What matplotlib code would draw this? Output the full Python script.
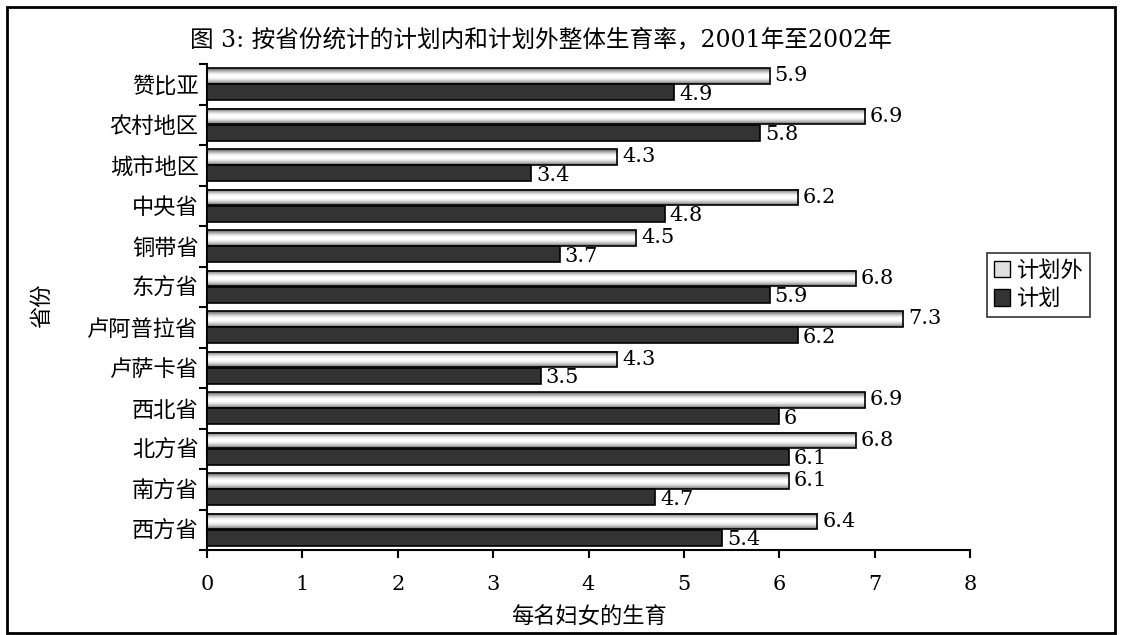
import matplotlib.pyplot as plt
import numpy as np
from matplotlib.patches import Rectangle

plt.rcParams['font.family'] = ['DejaVu Serif', 'Noto Sans CJK SC']

provinces = ['赞比亚', '农村地区', '城市地区', '中央省', '铜带省', '东方省',
             '卢阿普拉省', '卢萨卡省', '西北省', '北方省', '南方省', '西方省']
unplanned = [5.9, 6.9, 4.3, 6.2, 4.5, 6.8, 7.3, 4.3, 6.9, 6.8, 6.1, 6.4]
planned = [4.9, 5.8, 3.4, 4.8, 3.7, 5.9, 6.2, 3.5, 6, 6.1, 4.7, 5.4]
xticks = [0, 1, 2, 3, 4, 5, 6, 7, 8]

fig = plt.figure(figsize=(11.23, 6.35), dpi=100)
ax = fig.add_axes([207/1123, 1-550/635, 763/1123, 486/635])

# 渐变 (上下灰, 中间白)
grad = np.array([0.45, 0.62, 0.8, 0.93, 1.0, 1.0, 0.95, 0.85, 0.7, 0.5]).reshape(-1, 1)

y = np.arange(len(provinces))
h = 0.39
for i, u in enumerate(unplanned):
    y0 = i + 0.1
    ax.imshow(grad, cmap='gray', vmin=0, vmax=1, aspect='auto',
              extent=[0, u, y0 + h, y0], interpolation='bilinear', zorder=2)
ax.barh(y + 0.1 + h/2, unplanned, height=h, facecolor='none',
        edgecolor='black', linewidth=1.2, zorder=3)
ax.barh(y + 0.1 + h*1.5 + 0.01, planned, height=h, color='#333333',
        edgecolor='black', linewidth=1.2, zorder=3)

for i, (u, p) in enumerate(zip(unplanned, planned)):
    ax.text(u + 0.05, i + 0.1 + h/2, '%g' % u, va='center', ha='left', fontsize=15)
    ax.text(p + 0.05, i + 0.1 + h*1.5 + 0.06, '%g' % p, va='center', ha='left', fontsize=15)

ax.set_xlim(0, 8)
ax.set_ylim(12, 0)
ax.set_xticks(xticks)
ax.set_xticklabels([str(t) for t in xticks], fontsize=15)
ax.set_yticks(np.arange(13))
ax.set_yticklabels([])
ax.set_yticks(y + 0.5, minor=True)
ax.set_yticklabels(provinces, minor=True, fontsize=16)
ax.tick_params(axis='y', which='minor', length=0, pad=6)
ax.tick_params(axis='y', which='major', direction='out', length=6, width=1.5)
ax.tick_params(axis='x', direction='out', length=6, width=1.5, pad=12)
for s in ['top', 'right']:
    ax.spines[s].set_visible(False)
for s in ['left', 'bottom']:
    ax.spines[s].set_linewidth(1.5)

ax.set_xlabel('每名妇女的生育', fontsize=16, labelpad=9)
fig.text(42/1123, 1-306/635, '省份', rotation=90, fontsize=16, ha='center', va='center')
fig.text(541/1123, 1-40/635, '图 3: 按省份统计的计划内和计划外整体生育率，2001年至2002年',
         fontsize=17, ha='center', va='center')

h1 = Rectangle((0, 0), 1, 1, facecolor='#e0e0e0', edgecolor='black')
h2 = Rectangle((0, 0), 1, 1, facecolor='#333333', edgecolor='black')
leg = fig.legend([h1, h2], ['计划外', '计划'], loc='upper left',
                 bbox_to_anchor=(987/1123, 1-253/635), fontsize=16, frameon=True,
                 fancybox=False, edgecolor='black', handlelength=0.75, handleheight=0.75,
                 handletextpad=0.3, borderpad=0.3, labelspacing=0.3, borderaxespad=0)
leg.get_frame().set_linewidth(1.2)

fig.patches.append(Rectangle((7/1123, 2/635), 1108/1123, 626/635, transform=fig.transFigure,
                             fill=False, edgecolor='black', linewidth=2))

fig.savefig('out.png', dpi=100)
